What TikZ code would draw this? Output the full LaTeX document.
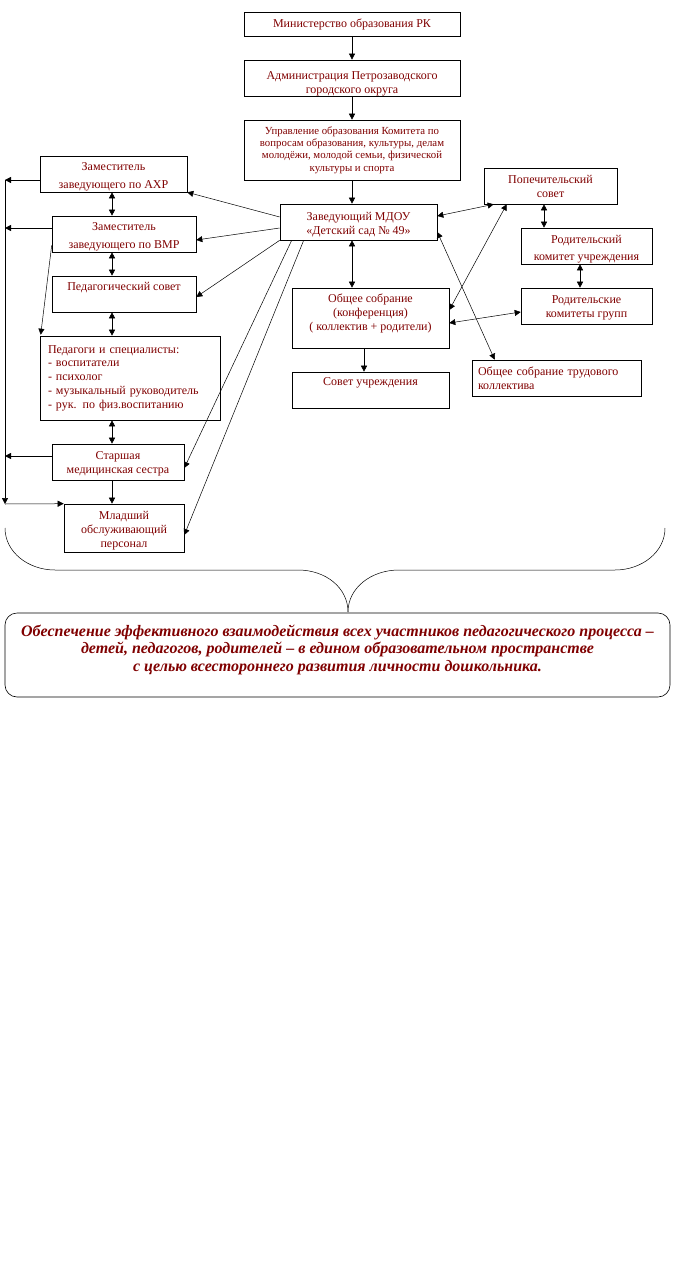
\documentclass[tikz,border=0pt]{standalone}
\usepackage{fontspec}
\setmainfont{Liberation Serif}
\usetikzlibrary{arrows.meta,calc}
\definecolor{txtred}{RGB}{128,0,0}
\newcommand{\dn}[1]{\rule{0pt}{#1pt}}
\newcommand{\up}[1]{\rule[-#1pt]{0pt}{0pt}}
\begin{document}
\begin{tikzpicture}[x=1pt,y=-1pt,
  box/.style={draw,line width=0.6pt,inner sep=0pt,text=txtred,align=center,
    font=\fontsize{12}{14}\selectfont},
  arr/.style={line width=0.5pt,-{Triangle[length=6pt,width=6pt]}},
  darr/.style={line width=0.5pt,{Triangle[length=6pt,width=6pt]}-{Triangle[length=6pt,width=6pt]}},
  thin line/.style={line width=0.5pt}]
\useasboundingbox (0,0) rectangle (677,1273);
\fill[white] (0,0) rectangle (677,1273);
% top column
\node[box,minimum width=216,minimum height=24] (min) at (352,24) {Министерство образования РК};
\node[box,minimum width=216,minimum height=36] (adm) at (352,78) {\dn{19.5}Администрация Петрозаводского\\городского округа};
\node[box,minimum width=216,minimum height=60,font=\fontsize{10.8}{12.3}\selectfont] (upr) at (352,150)
  {Управление образования Комитета по\\вопросам образования, культуры, делам\\молодёжи, молодой семьи, физической\\культуры и спорта};
\node[box,minimum width=157,minimum height=36] (zav) at (358.5,222) {\dn{13.5}Заведующий МДОУ\\«Детский сад № 49»};
% left column
\node[box,minimum width=147,minimum height=36,font=\fontsize{12}{18}\selectfont] (axr) at (113.5,174) {\dn{14.5}Заместитель\\заведующего по АХР};
\node[box,minimum width=144,minimum height=36,font=\fontsize{12}{18}\selectfont] (vmr) at (124,234) {\dn{14.5}Заместитель\\заведующего по ВМР};
\node[box,minimum width=144,minimum height=36] (ped) at (124,294) {Педагогический совет\up{15}};
\node[box,text width=164,inner xsep=8,minimum height=84,align=left,font=\fontsize{12}{13.8}\selectfont] (spec) at (130,378)
  {Педагоги и специалисты:\\- воспитатели\\- психолог\\- музыкальный руководитель\\- рук. по физ.воспитанию};
\node[box,minimum width=132,minimum height=36] (star) at (118,462) {\dn{12.5}Старшая\\медицинская сестра};
\node[box,minimum width=120,minimum height=48] (mlad) at (124,528) {\dn{14.5}Младший\\обслуживающий\\персонал};
% right part
\node[box,minimum width=133,minimum height=36] (pop) at (550.5,186) {Попечительский\\совет};
\node[box,minimum width=131,minimum height=36,font=\fontsize{12}{17}\selectfont] (rku) at (586.5,246) {\dn{14.5}Родительский\\комитет учреждения};
\node[box,minimum width=131,minimum height=36] (rkg) at (586.5,306) {\dn{12.5}Родительские\\комитеты групп};
\node[box,minimum width=157,minimum height=60] (obs) at (370.5,318) {Общее собрание\\(конференция)\\( коллектив + родители)\up{12}};
\node[box,minimum width=157,minimum height=36] (sov) at (370.5,390) {Совет учреждения\up{17}};
\node[box,text width=157,inner xsep=6,minimum height=36,align=left] (trud) at (556.5,378) {Общее собрание трудового\\коллектива};
% vertical chain
\draw[arr] (min) -- (adm);
\draw[arr] (adm) -- (upr);
\draw[arr] (upr.south) -- (upr.south |- zav.north);
\draw[darr] (zav.south -| upr.south) -- (obs.north -| upr.south);
\coordinate (osx) at (364,0);
\draw[arr] (obs.south -| osx) -- (sov.north -| osx);
% left column links
\coordinate (colx) at (112,0);
\draw[darr] (axr.south -| colx) -- (vmr.north -| colx);
\draw[darr] (vmr.south -| colx) -- (ped.north -| colx);
\draw[darr] (ped.south -| colx) -- (spec.north -| colx);
\draw[darr] (spec.south -| colx) -- (star.north -| colx);
\draw[arr] (star.south -| colx) -- (mlad.north -| colx);
% left bus
\coordinate (b1) at (5,180);
\coordinate (b2) at (5,228);
\coordinate (b3) at (5,456);
\coordinate (b4) at (5,504);
\draw[arr] (axr.west |- b1) -- (b1);
\draw[arr] (vmr.west |- b2) -- (b2);
\draw[arr] (star.west |- b3) -- (b3);
\draw[arr] (b1) -- (b4);
\draw[arr] (b4) -- (mlad.north west);
\draw[arr] ($(vmr.south west)+(0,-7)$) -- ($(spec.north west)+(1,-1)$);
% from head
\draw[arr] ($(zav.west)+(0,-5)$) -- (axr.south east);
\draw[arr] ($(zav.west)+(0,6)$) -- ($(vmr.east)+(0,6)$);
\draw[arr] (zav.south west) -- ($(ped.east)+(0,3)$);
\draw[arr] ($(zav.south west)+(12,0)$) -- ($(star.east)+(0,6)$);
\draw[arr] ($(zav.south west)+(24,0)$) -- ($(mlad.east)+(0,7)$);
% right links
\draw[darr] ($(zav.east)+(0,-6)$) -- ($(pop.south west)+(10,0)$);
\draw[darr] ($(pop.south west)+(23,0)$) -- ($(obs.east)+(0,-8)$);
\coordinate (px) at (544,0);
\coordinate (rx) at (580,0);
\draw[darr] (pop.south -| px) -- (rku.north -| px);
\draw[darr] (rku.south -| rx) -- (rkg.north -| rx);
\draw[darr] ($(obs.east)+(0,5)$) -- ($(rkg.west)+(0,6)$);
\draw[darr] ($(zav.east)+(0,10)$) -- ($(trud.north west)+(23,0)$);
% brace
\coordinate (tip) at (348,612);
\draw[thin line] (5,528) .. controls (5,552) and (28,570) .. (55,570) -- (298,570)
  .. controls (326,570) and (348,588) .. (tip);
\draw[thin line] (665,528) .. controls (665,552) and (642,570) .. (615,570) -- (399,570)
  .. controls (371,570) and (348,588) .. (tip);
% goal box
\node[draw,line width=0.6pt,rounded corners=12pt,minimum width=665,minimum height=84,inner sep=0pt,
  text=txtred,align=center,font=\fontsize{16}{17.5}\selectfont\bfseries\itshape] (goal) at (337.5,655)
  {Обеспечение эффективного взаимодействия всех участников педагогического процесса –\\
   детей, педагогов, родителей – в едином образовательном пространстве\\
   с целью всестороннего развития личности дошкольника.\\[-9pt]\strut};
\end{tikzpicture}
\end{document}
